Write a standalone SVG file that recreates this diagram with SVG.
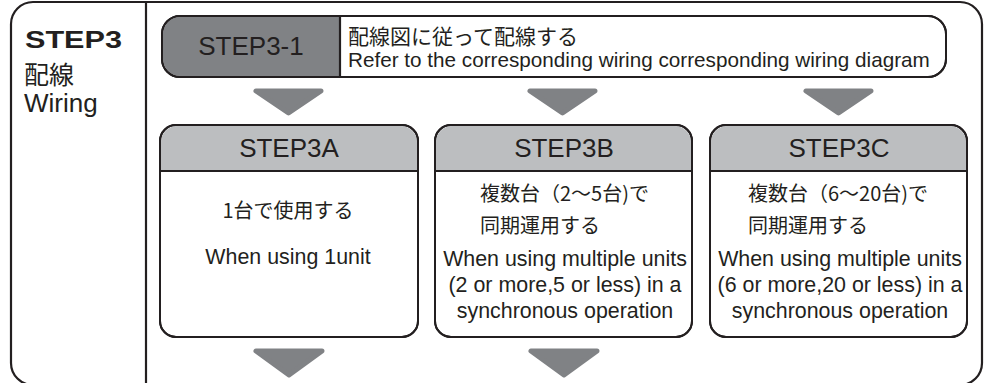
<svg xmlns="http://www.w3.org/2000/svg" width="985" height="383" viewBox="0 0 985 383">
<style>
.ln{fill:none;stroke:#231f20;stroke-width:2.2}
.box{fill:#fff;stroke:#231f20;stroke-width:2}
.hdr{fill:#bcbec0}
.dark{fill:#808285}
.arr{fill:#808285;stroke:#808285;stroke-width:5;stroke-linejoin:round}
text{font-family:"Liberation Sans","Noto Sans CJK JP",sans-serif;fill:#231f20}
.jp{font-family:"Noto Sans CJK JP","Liberation Sans",sans-serif}
.h{font-size:26px;text-anchor:middle}
.en{font-size:21.4px;text-anchor:middle}
.j{font-size:20px}
</style>
<g id="frame">
<rect class="ln" x="11" y="2" width="971" height="383" rx="22"/>
<line class="ln" x1="146" y1="2" x2="146" y2="385"/>
</g>
<g id="title">
<text x="25" y="48" font-size="23" font-weight="900" textLength="97" lengthAdjust="spacingAndGlyphs" font-family="DejaVu Sans">STEP3</text>
<text class="jp" x="24" y="84" font-size="25">配線</text>
<text x="24" y="112" font-size="26">Wiring</text>
</g>
<g id="step3-1">
<rect class="box" x="162" y="16" width="784" height="61" rx="18"/>
<path class="dark" d="M340,17 H180 A17,17 0 0 0 163,34 V59 A17,17 0 0 0 180,76 H340 Z"/>
<rect class="box" x="162" y="16" width="784" height="61" rx="18" style="fill:none"/>
<line class="ln" x1="340" y1="16" x2="340" y2="77" stroke-width="2"/>
<text class="h" x="251" y="55">STEP3-1</text>
<text class="jp" x="348" y="44" font-size="21">配線図に従って配線する</text>
<text x="348" y="67" font-size="20.7">Refer to the corresponding wiring corresponding wiring diagram</text>
</g>
<g id="connectors">
<polygon class="arr" points="256,91 321,91 288.5,113"/>
<polygon class="arr" points="530,91 595,91 562.5,113"/>
<polygon class="arr" points="806,91 871,91 838.5,113"/>
<polygon class="arr" points="256,351 322,351 289,375"/>
<polygon class="arr" points="531,351 597,351 564,375"/>
</g>
<g id="step3a">
<rect class="box" x="160" y="125" width="258" height="212" rx="16"/>
<path class="hdr" d="M161,171 V142 A16,16 0 0 1 177,126 H401 A16,16 0 0 1 417,142 V171 Z"/>
<rect class="box" x="160" y="125" width="258" height="212" rx="16" style="fill:none"/>
<line class="ln" x1="160" y1="171" x2="418" y2="171" stroke-width="2"/>
<text class="h" x="289" y="157">STEP3A</text>
<text class="jp j" x="288" y="218" text-anchor="middle">1台で使用する</text>
<text class="en" x="288" y="264">When using 1unit</text>
</g>
<g id="step3b">
<rect class="box" x="435" y="125" width="257" height="212" rx="16"/>
<path class="hdr" d="M436,171 V142 A16,16 0 0 1 452,126 H675 A16,16 0 0 1 691,142 V171 Z"/>
<rect class="box" x="435" y="125" width="257" height="212" rx="16" style="fill:none"/>
<line class="ln" x1="435" y1="171" x2="692" y2="171" stroke-width="2"/>
<text class="h" x="564" y="157">STEP3B</text>
<text class="jp j" x="480" y="201">複数台（2〜5台)で</text>
<text class="jp j" x="480" y="233">同期運用する</text>
<text class="en" x="565" y="266">When using multiple units</text>
<text class="en" x="565" y="292">(2 or more,5 or less) in a</text>
<text class="en" x="565" y="318">synchronous operation</text>
</g>
<g id="step3c">
<rect class="box" x="710" y="125" width="257" height="212" rx="16"/>
<path class="hdr" d="M711,171 V142 A16,16 0 0 1 727,126 H950 A16,16 0 0 1 966,142 V171 Z"/>
<rect class="box" x="710" y="125" width="257" height="212" rx="16" style="fill:none"/>
<line class="ln" x1="710" y1="171" x2="967" y2="171" stroke-width="2"/>
<text class="h" x="839" y="157">STEP3C</text>
<text class="jp j" x="748" y="201">複数台（6〜20台)で</text>
<text class="jp j" x="748" y="233">同期運用する</text>
<text class="en" x="840" y="266">When using multiple units</text>
<text class="en" x="840" y="292">(6 or more,20 or less) in a</text>
<text class="en" x="840" y="318">synchronous operation</text>
</g>
</svg>
